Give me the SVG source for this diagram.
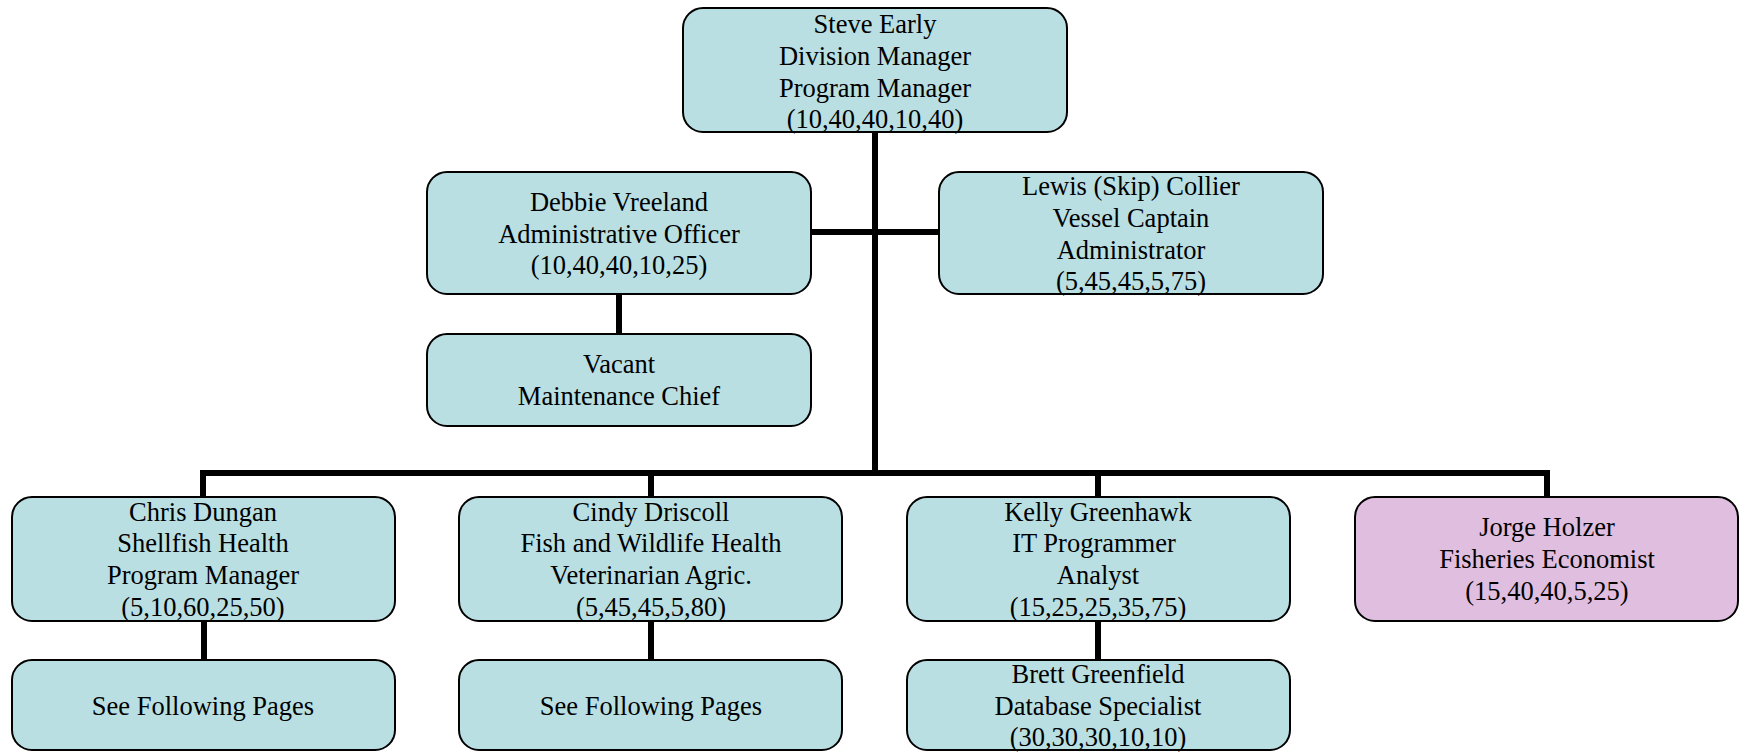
<svg xmlns="http://www.w3.org/2000/svg" width="1741" height="752" viewBox="0 0 1741 752">
<style>
.box{fill:#b9dfe3;stroke:#000;stroke-width:2}
.pink{fill:#e0bedf;stroke:#000;stroke-width:2}
.t{font-family:"Liberation Serif","Times New Roman",serif;font-size:26.5px;fill:#000;text-anchor:middle}
.c{fill:none;stroke:#000;stroke-width:6;stroke-linejoin:miter;stroke-linecap:butt}
</style>
<rect width="1741" height="752" fill="#fff"/>
<g id="connectors">
<path class="c" d="M875,132 V473"/>
<path class="c" d="M203,497 V473 H1547 V497"/>
<path class="c" d="M651,473 V497"/>
<path class="c" d="M1098,473 V497"/>
<path class="c" d="M811,232 H939"/>
<path class="c" d="M619,294 V334"/>
<path class="c" d="M204,621 V660"/>
<path class="c" d="M651,621 V660"/>
<path class="c" d="M1098,621 V660"/>
</g>
<g id="steve">
<rect class="box" x="683" y="8" width="384" height="124" rx="20"/>
<text class="t" x="875" y="33">Steve Early</text>
<text class="t" x="875" y="65">Division Manager</text>
<text class="t" x="875" y="97">Program Manager</text>
<text class="t" x="875" y="128">(10,40,40,10,40)</text>
</g>
<g id="debbie">
<rect class="box" x="427" y="172" width="384" height="122" rx="20"/>
<text class="t" x="619" y="211">Debbie Vreeland</text>
<text class="t" x="619" y="243">Administrative Officer</text>
<text class="t" x="619" y="274">(10,40,40,10,25)</text>
</g>
<g id="lewis">
<rect class="box" x="939" y="172" width="384" height="122" rx="20"/>
<text class="t" x="1131" y="195">Lewis (Skip) Collier</text>
<text class="t" x="1131" y="227">Vessel Captain</text>
<text class="t" x="1131" y="259">Administrator</text>
<text class="t" x="1131" y="290">(5,45,45,5,75)</text>
</g>
<g id="vacant">
<rect class="box" x="427" y="334" width="384" height="92" rx="20"/>
<text class="t" x="619" y="373">Vacant</text>
<text class="t" x="619" y="405">Maintenance Chief</text>
</g>
<g id="chris">
<rect class="box" x="12" y="497" width="383" height="124" rx="20"/>
<text class="t" x="203" y="521">Chris Dungan</text>
<text class="t" x="203" y="552">Shellfish Health</text>
<text class="t" x="203" y="584">Program Manager</text>
<text class="t" x="203" y="616">(5,10,60,25,50)</text>
</g>
<g id="cindy">
<rect class="box" x="459" y="497" width="383" height="124" rx="20"/>
<text class="t" x="651" y="521">Cindy Driscoll</text>
<text class="t" x="651" y="552">Fish and Wildlife Health</text>
<text class="t" x="651" y="584">Veterinarian Agric.</text>
<text class="t" x="651" y="616">(5,45,45,5,80)</text>
</g>
<g id="kelly">
<rect class="box" x="907" y="497" width="383" height="124" rx="20"/>
<text class="t" x="1098" y="521">Kelly Greenhawk</text>
<text class="t" x="1094" y="552">IT Programmer</text>
<text class="t" x="1098" y="584">Analyst</text>
<text class="t" x="1098" y="616">(15,25,25,35,75)</text>
</g>
<g id="jorge">
<rect class="pink" x="1355" y="497" width="383" height="124" rx="20"/>
<text class="t" x="1547" y="536">Jorge Holzer</text>
<text class="t" x="1547" y="568">Fisheries Economist</text>
<text class="t" x="1547" y="600">(15,40,40,5,25)</text>
</g>
<g id="chris-sub">
<rect class="box" x="12" y="660" width="383" height="90" rx="20"/>
<text class="t" x="203" y="715">See Following Pages</text>
</g>
<g id="cindy-sub">
<rect class="box" x="459" y="660" width="383" height="90" rx="20"/>
<text class="t" x="651" y="715">See Following Pages</text>
</g>
<g id="brett">
<rect class="box" x="907" y="660" width="383" height="90" rx="20"/>
<text class="t" x="1098" y="683">Brett Greenfield</text>
<text class="t" x="1098" y="715">Database Specialist</text>
<text class="t" x="1098" y="746">(30,30,30,10,10)</text>
</g>
</svg>
